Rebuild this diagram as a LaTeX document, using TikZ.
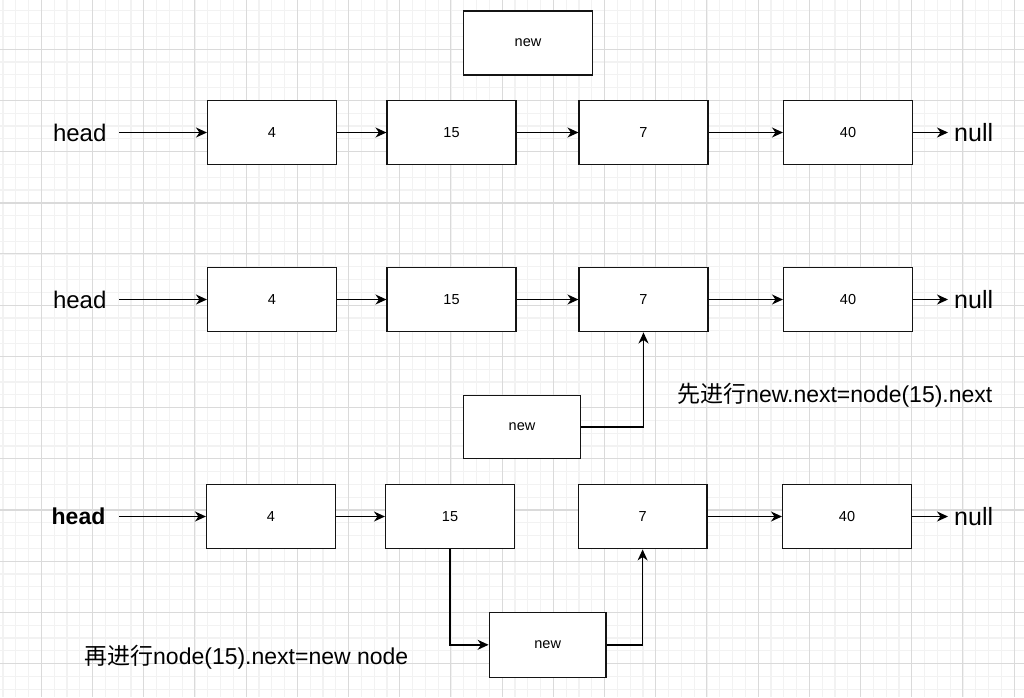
\documentclass[tikz,border=0pt]{standalone}
\usepackage{fontspec}
\setmainfont{Liberation Sans}
\newfontfamily\cjk{Noto Sans CJK SC}
\usetikzlibrary{arrows.meta}

\definecolor{gridminor}{RGB}{242,242,242}
\definecolor{gridmajor}{RGB}{218,218,218}
\definecolor{boxline}{RGB}{20,20,20}

\tikzset{
  listbox/.style={draw=boxline, line width=1.5pt, fill=white, inner sep=0pt,
    minimum width=128.6pt, minimum height=64.4pt,
    font=\fontsize{14.5}{16}\selectfont},
  newbox/.style={listbox, minimum width=116.7pt},
  label/.style={inner ysep=0pt, font=\fontsize{24}{28}\selectfont},
  note/.style={inner sep=0pt, anchor=west, font=\fontsize{23}{27}\selectfont},
  link/.style={draw=black, line width=1.5pt,
    -{Stealth[length=11pt,width=10pt,inset=3.5pt]}},
}

\begin{document}
\begin{tikzpicture}[x=1pt,y=-1pt]
\useasboundingbox (0,0) rectangle (1024,697);
\fill[white] (0,0) rectangle (1024,697);

% background grid
\foreach \i in {0,...,79}
  \draw[gridminor, line width=1.2pt] ({2.9+12.8*\i},0) -- ({2.9+12.8*\i},697);
\foreach \i in {0,...,53}
  \draw[gridminor, line width=1.2pt] (0,{10.7+12.8*\i}) -- (1024,{10.7+12.8*\i});
\foreach \i in {0,...,19}
  \draw[gridmajor, line width=0.9pt] ({41.3+51.2*\i},0) -- ({41.3+51.2*\i},697);
\foreach \i in {0,...,12}
  \draw[gridmajor, line width=0.9pt] (0,{49.1+51.2*\i}) -- (1024,{49.1+51.2*\i});
\draw[gridmajor, line width=2pt] (0,202.7) -- (1024,202.7);
\draw[gridmajor, line width=2pt] (0,509.9) -- (1024,509.9);

% first list: the new node stands apart
\node[listbox, minimum width=128.6pt] (anew) at (528,43) {new};
\node[label, inner xsep=12.5pt] (ahead) at (79.7,132.5) {head};
\node[listbox] (a4)  at (272,132.5)   {4};
\node[listbox] (a15) at (451.5,132.5) {15};
\node[listbox] (a7)  at (643.5,132.5) {7};
\node[listbox] (a40) at (848,132.5)   {40};
\node[label, inner xsep=6pt, anchor=west, font=\fontsize{25}{28}\selectfont] (anull) at (948,132.5) {null};
\draw[link] (ahead) -- (a4);
\draw[link] (a4) -- (a15);
\draw[link] (a15) -- (a7);
\draw[link] (a7) -- (a40);
\draw[link] (a40) -- (anull);

% second list: new.next points to node 7
\node[label, inner xsep=12.5pt] (bhead) at (79.7,299.5) {head};
\node[listbox] (b4)  at (272,299.5)   {4};
\node[listbox] (b15) at (451.5,299.5) {15};
\node[listbox] (b7)  at (643.5,299.5) {7};
\node[listbox] (b40) at (848,299.5)   {40};
\node[label, inner xsep=6pt, anchor=west, font=\fontsize{25}{28}\selectfont] (bnull) at (948,299.5) {null};
\node[newbox, minimum height=63pt] (bnew) at (522,427) {new};
\draw[link] (bhead) -- (b4);
\draw[link] (b4) -- (b15);
\draw[link] (b15) -- (b7);
\draw[link] (b7) -- (b40);
\draw[link] (b40) -- (bnull);
\draw[link] (bnew.east) -| (b7.south);
\node[note] (bnote) at (677,395) {{\cjk 先进行}new.next=node(15).next};

% third list: node 15 now points to new
\node[label, inner xsep=13.5pt, font=\bfseries\fontsize{23}{28}\selectfont] (chead) at (78.5,516.5) {head};
\node[listbox] (c4)  at (271,516.5)   {4};
\node[listbox] (c15) at (450,516.5)   {15};
\node[listbox] (c7)  at (642.6,516.5) {7};
\node[listbox] (c40) at (847,516.5)   {40};
\node[label, inner xsep=6pt, anchor=west, font=\fontsize{25}{28}\selectfont] (cnull) at (948,516.5) {null};
\node[newbox, minimum height=65pt] (cnew) at (547.7,644.8) {new};
\draw[link] (chead) -- (c4);
\draw[link] (c4) -- (c15);
\draw[link] (c7) -- (c40);
\draw[link] (c40) -- (cnull);
\draw[link] (c15.south) |- (cnew.west);
\draw[link] (cnew.east) -| (c7.south);
\node[note] (cnote) at (84,657) {{\cjk 再进行}node(15).next=new node};
\end{tikzpicture}
\end{document}
